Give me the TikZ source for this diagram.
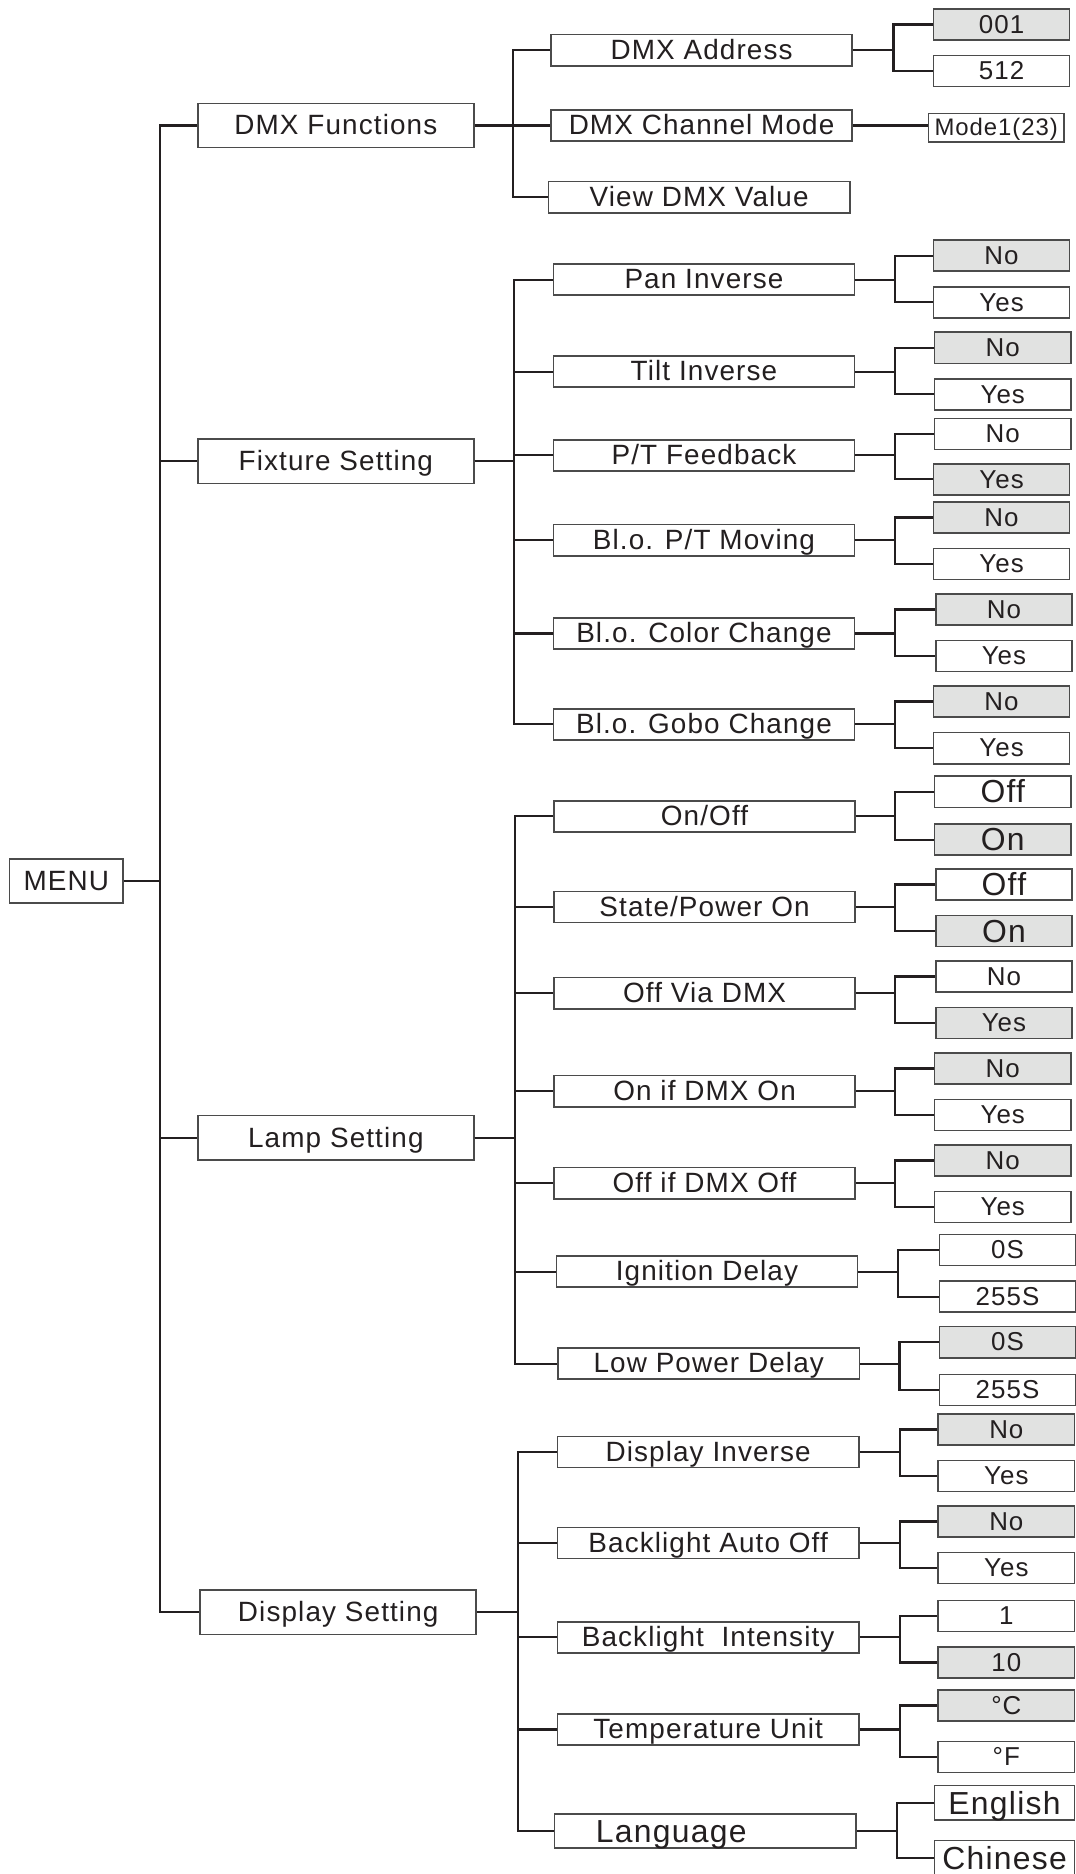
\documentclass[tikz,border=0pt]{standalone}
\usepackage{fontspec}
\setmainfont{Liberation Sans}[LetterSpace=4]
\usetikzlibrary{positioning,calc}
\definecolor{ink}{RGB}{35,31,32}
\definecolor{boxline}{RGB}{75,75,75}
\definecolor{selgray}{RGB}{225,226,225}
\newcommand{\fsz}[1]{\fontsize{#1}{#1}\selectfont}

\begin{document}
\begin{tikzpicture}[x=0.6pt,y=-0.6pt,
  box/.style={draw=boxline,line width=0.8pt,fill=white,inner sep=0pt,text=ink},
  menubox/.style={box,minimum width=57pt,minimum height=22.2pt,font=\fsz{14},text height=10pt,text depth=0.5pt},
  lvone/.style={box,minimum width=138.6pt,minimum height=22.2pt,font=\fsz{14},text height=10pt,text depth=0.5pt},
  lvtwo/.style={box,minimum width=151.2pt,minimum height=15.6pt,font=\fsz{14},text height=10pt,text depth=0.8pt},
  val/.style={box,minimum width=68.4pt,minimum height=15.6pt,font=\fsz{13},text height=9.4pt,text depth=0.6pt},
  bigval/.style={val,font=\fsz{16},text height=11.5pt,text depth=0.3pt},
  sel/.style={fill=selgray},
  wire/.style={draw=ink,line width=1.1pt}]
  \useasboundingbox (0,0) rectangle (900,1568);

  % level 0 and 1
  \node[menubox] (menu) at (55.5,737) {MENU};
  \node[lvone] (dmx) at (281,105) {DMX Functions};
  \node[lvone] (fix) at (281,386) {Fixture Setting};
  \node[lvone] (lamp) at (281,952) {Lamp Setting};
  \node[lvone] (disp) at (283,1349) {Display Setting};
  \draw[wire] (menu.east) -- ++(30,0) |- (dmx.west)  (menu.east) -- ++(30,0) |- (fix.west)
              (menu.east) -- ++(30,0) |- (lamp.west) (menu.east) -- ++(30,0) |- (disp.west);

  % DMX functions
  \node[lvtwo] (dadr) at (587,42) {DMX Address};
  \node[lvtwo] (dchm) at (587,105) {DMX Channel Mode};
  \node[lvtwo] (dval) at (585,165) {View DMX Value};
  \node[val,sel] (dadrlo) at (838,20.5) {001};  \node[val] (dadrhi) at (838,59.5) {512};
  \node[val,font=\fsz{12},minimum width=67.8pt,minimum height=14.4pt,text height=8.6pt] (mode) at (833.5,107) {Mode1(23)};
  \draw[wire] (dmx.east) -- ++(32,0) |- (dadr.west) (dmx.east) -- ++(32,0) |- (dchm.west) (dmx.east) -- ++(32,0) |- (dval.west);
  \draw[wire] (dadr.east) -- ++(34,0) |- (dadrlo.west) (dadr.east) -- ++(34,0) |- (dadrhi.west);
  \draw[wire] (dchm.east) -- (dchm.east -| mode.west);

  % fixture setting
  \node[lvtwo] (pan) at (589,234) {Pan Inverse};
  \node[lvtwo] (tilt) at (589,311) {Tilt Inverse};
  \node[lvtwo] (fb) at (589,381) {P/T Feedback};
  \node[lvtwo] (blpt) at (589,452) {Bl.o. P/T Moving};
  \node[lvtwo] (blcol) at (589,530) {Bl.o. Color Change};
  \node[lvtwo] (blgob) at (589,606) {Bl.o. Gobo Change};
  \foreach \n in {pan,tilt,fb,blpt,blcol,blgob} \draw[wire] (fix.east) -- ++(33,0) |- (\n.west);
  \node[val,sel] (panno) at (838,214) {No};     \node[val] (panyes) at (838,253) {Yes};
  \node[val,sel] (tiltno) at (839,291) {No};    \node[val] (tiltyes) at (839,330) {Yes};
  \node[val] (fbno) at (839,363) {No};          \node[val,sel] (fbyes) at (838,401) {Yes};
  \node[val,sel] (blptno) at (838,433) {No};    \node[val] (blptyes) at (838,472) {Yes};
  \node[val,sel] (blcolno) at (840,510) {No};   \node[val] (blcolyes) at (840,549) {Yes};
  \node[val,sel] (blgobno) at (838,587) {No};   \node[val] (blgobyes) at (838,626) {Yes};
  \foreach \n in {pan,tilt,fb,blpt,blcol,blgob}
    \draw[wire] (\n.east) -- ++(33,0) |- (\n no.west) (\n.east) -- ++(33,0) |- (\n yes.west);

  % lamp setting
  \node[lvtwo] (onoff) at (589.5,683) {On/Off};
  \node[lvtwo] (state) at (589.5,759) {State/Power On};
  \node[lvtwo] (offvia) at (589.5,831) {Off Via DMX};
  \node[lvtwo] (onif) at (589.5,913) {On if DMX On};
  \node[lvtwo] (offif) at (589.5,990) {Off if DMX Off};
  \node[lvtwo] (ign) at (591.5,1064) {Ignition Delay};
  \node[lvtwo] (lowp) at (593,1141) {Low Power Delay};
  \foreach \n in {onoff,state,offvia,onif,offif,ign,lowp} \draw[wire] (lamp.east) -- ++(34,0) |- (\n.west);
  \node[bigval] (onoffno) at (839,662.5) {Off};  \node[bigval,sel] (onoffyes) at (839,702.5) {On};
  \node[bigval] (stateno) at (840,740) {Off};    \node[bigval,sel] (stateyes) at (840,779) {On};
  \node[val] (offviano) at (840,817) {No};       \node[val,sel] (offviayes) at (840,856) {Yes};
  \node[val,sel] (onifno) at (839,894) {No};     \node[val] (onifyes) at (839,933) {Yes};
  \node[val,sel] (offifno) at (839,971) {No};    \node[val] (offifyes) at (839,1010) {Yes};
  \node[val] (ignno) at (843,1046) {0S};         \node[val] (ignyes) at (843,1085) {255S};
  \node[val,sel] (lowpno) at (843,1123) {0S};    \node[val] (lowpyes) at (843,1163) {255S};
  \foreach \n in {onoff,state,offvia,onif,offif,ign,lowp}
    \draw[wire] (\n.east) -- ++(33,0) |- (\n no.west) (\n.east) -- ++(33,0) |- (\n yes.west);

  % display setting
  \node[lvtwo] (dinv) at (592.5,1215) {Display Inverse};
  \node[lvtwo] (bauto) at (592.5,1291) {Backlight Auto Off};
  \node[lvtwo] (bint) at (592.5,1370) {Backlight\ \ Intensity};
  \node[lvtwo] (temp) at (592.5,1447) {Temperature Unit};
  \node[lvtwo,minimum height=16.8pt,font=\fsz{16},text height=11.5pt,text depth=0.3pt] (lang) at (590,1532) {Language\hspace*{34pt}};
  \foreach \n in {dinv,bauto,bint,temp,lang} \draw[wire] (disp.east) -- ++(34,0) |- (\n.west);
  \node[val,sel] (dinvno) at (842,1196) {No};    \node[val] (dinvyes) at (842,1235) {Yes};
  \node[val,sel] (bautono) at (842,1273) {No};   \node[val] (bautoyes) at (842,1312) {Yes};
  \node[val] (bintno) at (842,1352) {1};         \node[val,sel] (bintyes) at (842,1391) {10};
  \node[val,sel] (tempno) at (842,1427) {°C};    \node[val] (tempyes) at (842,1470) {°F};
  \node[bigval,minimum width=70.2pt,minimum height=17.4pt] (langno) at (840.5,1508.5) {English};
  \node[bigval,minimum width=70.2pt,minimum height=17.4pt] (langyes) at (840.5,1554.5) {Chinese};
  \foreach \n in {dinv,bauto,bint,temp,lang}
    \draw[wire] (\n.east) -- ++(34,0) |- (\n no.west) (\n.east) -- ++(34,0) |- (\n yes.west);
\end{tikzpicture}
\end{document}
